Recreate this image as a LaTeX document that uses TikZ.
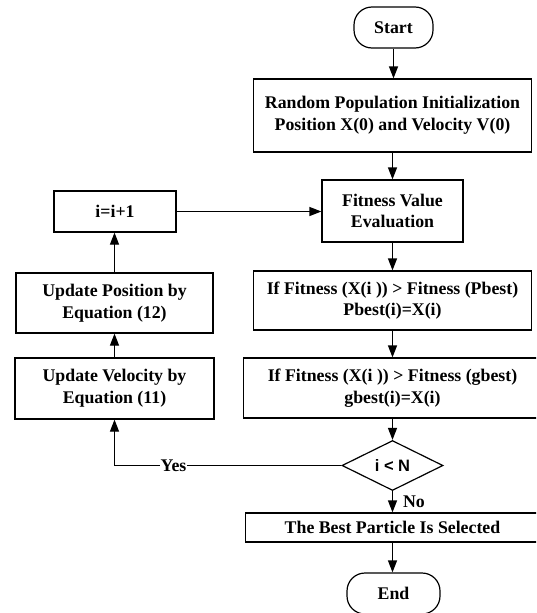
\documentclass[tikz,border=0pt]{standalone}
\usepackage{fontspec}
\setmainfont{Liberation Serif}
\newfontfamily\arialb{Liberation Sans}
\usetikzlibrary{arrows.meta,shapes.geometric}
\begin{document}
\begin{tikzpicture}[x=1pt,y=-1pt,
  every node/.style={font=\fontsize{17.8}{21.7}\selectfont\bfseries, align=center, inner sep=0pt},
  box/.style={draw, line width=1.2pt, rectangle},
  term/.style={draw, line width=1.2pt, rectangle, rounded corners=18pt},
  flow/.style={line width=1.2pt, -{Triangle[length=12pt,width=9pt]}}
]
\useasboundingbox (0,0) rectangle (536,613);
\fill[white] (0,0) rectangle (536,613);
\clip (0,0) rectangle (536,613);

\node[term, minimum width=79pt, minimum height=41pt] (start) at (393.5,27.5) {Start};
\node[box, minimum width=278pt, minimum height=73pt] (rand) at (392.5,115.5) {Random Population Initialization\\Position X(0) and Velocity V(0)};
\node[box, minimum width=141pt, minimum height=62pt] (fit) at (392.5,211) {Fitness Value\\Evaluation};
\node[box, minimum width=278pt, minimum height=59pt] (pb) at (392.5,300.5) {If Fitness (X(i )) \textgreater{} Fitness (Pbest)\\Pbest(i)=X(i)};
\node[box, minimum width=298pt, minimum height=60pt] (gb) at (392.5,388) {If Fitness (X(i )) \textgreater{} Fitness (gbest)\\gbest(i)=X(i)};
\node[draw, line width=1.2pt, diamond, minimum width=101pt, minimum height=50pt, inner sep=0pt] (cmp) at (392.5,465.5) {\arialb\bfseries\fontsize{16.5}{20}\selectfont i < N};
\node[box, minimum width=294pt, minimum height=29pt] (best) at (392.5,527.5) {The Best Particle Is Selected};
\node[term, minimum width=93pt, minimum height=41pt] (end) at (393.5,593.5) {End};

\node[box, minimum width=122pt, minimum height=41pt] (inc) at (115,211.5) {i=i+1};
\node[box, minimum width=197pt, minimum height=60pt] (pos) at (114.5,303) {Update Position by\\Equation (12)};
\node[box, minimum width=199pt, minimum height=61pt] (vel) at (114.5,388.5) {Update Velocity by\\Equation (11)};

\draw[flow] (start.south) -- (rand.north -| start.south);
\draw[flow] (rand.south) -- (fit.north);
\draw[flow] (fit.south) -- (pb.north);
\draw[flow] (pb.south) -- (gb.north);
\draw[flow] (gb.south) -- (cmp.north);
\draw[flow] (cmp.south) -- (best.north) node[pos=0.5, right=10pt] {No};
\draw[flow] (best.south) -- (end.north -| best.south);
\draw[flow] (cmp.west) -| (vel.south) node[pos=0.37, fill=white, inner xsep=1pt] {Yes};
\draw[flow] (vel.north) -- (pos.south);
\draw[flow] (pos.north) -- (inc.south -| pos.north);
\draw[flow] (inc.east) -- (fit.west |- inc.east);
\end{tikzpicture}
\end{document}
